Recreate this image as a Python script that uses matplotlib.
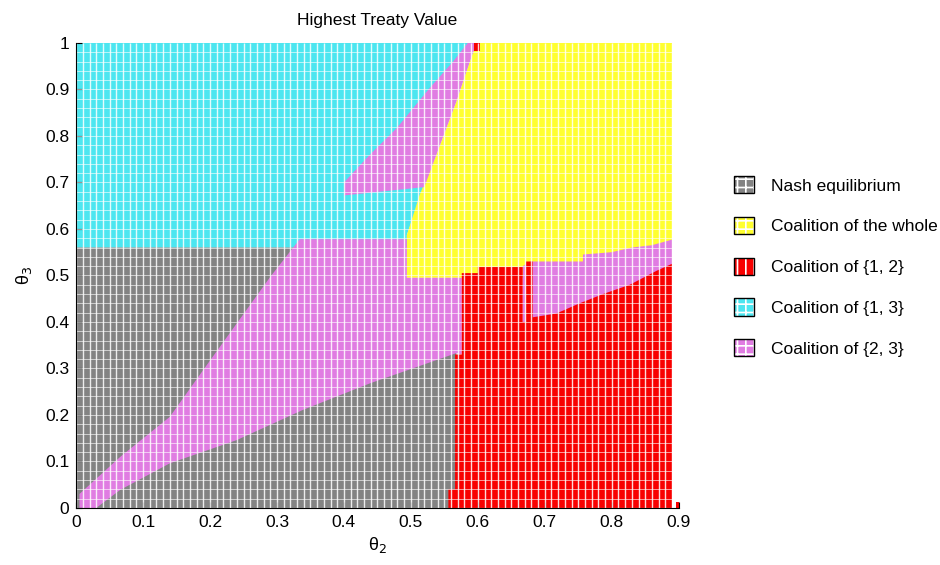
import numpy as np
import matplotlib.pyplot as plt
from matplotlib.patches import Patch
from matplotlib.legend_handler import HandlerTuple

plt.rcParams['font.family'] = ['Liberation Sans', 'DejaVu Sans']
plt.rcParams['font.size'] = 12.5
plt.rcParams['hatch.linewidth'] = 1.2

# region outlines as (theta2, theta3) vertices
cyan_13 = [[(0.0, 0.56), (0.0, 1.0), (0.598, 1.0), (0.494, 0.587), (0.494, 0.56)]]
yellow_whole = [[(0.494, 0.495), (0.494, 0.587), (0.513, 0.673), (0.538, 0.759),
                 (0.568, 0.874), (0.588, 0.96), (0.598, 1.0), (0.89, 1.0), (0.89, 0.495)]]
black_nash = [[(0.0, 0.0), (0.0, 0.56), (0.334, 0.56), (0.568, 0.333), (0.568, 0.0)]]
magenta_23 = [
    # upper strip between {1,3} and the whole
    [(0.40, 0.672), (0.40, 0.70), (0.439, 0.76), (0.479, 0.817), (0.528, 0.903),
     (0.563, 0.96), (0.585, 1.0), (0.598, 1.0), (0.588, 0.96), (0.568, 0.874),
     (0.538, 0.759), (0.52, 0.69)],
    # diagonal band
    [(0.005, 0.0), (0.005, 0.03), (0.066, 0.11), (0.14, 0.196), (0.19, 0.297),
     (0.24, 0.397), (0.29, 0.497), (0.334, 0.578), (0.494, 0.578), (0.494, 0.495),
     (0.576, 0.495), (0.576, 0.33), (0.568, 0.333), (0.439, 0.268), (0.339, 0.211),
     (0.24, 0.146), (0.14, 0.096), (0.066, 0.039), (0.03, 0.0)],
    # right pocket above {1,2}
    [(0.667, 0.40), (0.667, 0.52), (0.678, 0.53), (0.757, 0.53), (0.757, 0.545),
     (0.80, 0.55), (0.83, 0.56), (0.86, 0.565), (0.89, 0.577), (0.89, 0.40)],
]
red_12 = [
    [(0.556, 0.0), (0.556, 0.04), (0.566, 0.04), (0.566, 0.33), (0.576, 0.33),
     (0.576, 0.505), (0.60, 0.505), (0.60, 0.518), (0.667, 0.518), (0.667, 0.40),
     (0.672, 0.40), (0.672, 0.53), (0.682, 0.53), (0.682, 0.41), (0.717, 0.418),
     (0.752, 0.44), (0.787, 0.46), (0.827, 0.48), (0.867, 0.51), (0.89, 0.525),
     (0.89, 0.0)],
    [(0.595, 0.982), (0.595, 1.0), (0.603, 1.0), (0.603, 0.982)],
    [(0.896, 0.0), (0.896, 0.012), (0.904, 0.012), (0.904, 0.0)],
]

labels = ['Nash equilibrium', 'Coalition of the whole', 'Coalition of {1, 2}',
          'Coalition of {1, 3}', 'Coalition of {2, 3}']
colors = ['#838383', '#ffff30', '#f80000', '#4ce6f0', '#e07ce2']
x_ticks = [0, 0.1, 0.2, 0.3, 0.4, 0.5, 0.6, 0.7, 0.8, 0.9]
y_ticks = [0, 0.1, 0.2, 0.3, 0.4, 0.5, 0.6, 0.7, 0.8, 0.9, 1]

fig = plt.figure(figsize=(9.4, 5.65), dpi=100)
ax = fig.add_axes([0.081, 0.101, 0.641, 0.823])

# drawing order matters: later regions sit on top
layers = [(cyan_13, colors[3]), (yellow_whole, colors[1]), (black_nash, colors[0]),
          (magenta_23, colors[4]), (red_12, colors[2])]
for polys, c in layers:
    for poly in polys:
        xs, ys = zip(*poly)
        ax.fill(xs, ys, facecolor=c, edgecolor='none', linewidth=0)

# white cell lines to give the gridded look
ax.vlines(np.arange(0.0, 0.9, 0.01), 0, 1, colors='white', linewidth=1.0, alpha=0.85)
ax.hlines(np.arange(0.0, 1.0, 0.02), 0, 0.89, colors='white', linewidth=0.6, alpha=0.7)

ax.set_xlim(0, 0.9)
ax.set_ylim(0, 1)
ax.set_xticks(x_ticks)
ax.set_xticklabels([f'{t:g}' for t in x_ticks])
ax.set_yticks(y_ticks)
ax.set_yticklabels([f'{t:g}' for t in y_ticks])
ax.tick_params(direction='in', length=4, width=0.8, labelsize=12.5, pad=5)
ax.spines['top'].set_visible(False)
ax.spines['right'].set_visible(False)
ax.set_title('Highest Treaty Value', fontsize=12.5, pad=13)
ax.set_xlabel('θ$_2$', fontsize=13, labelpad=4)
ax.set_ylabel('θ$_3$', fontsize=13, labelpad=8)

hatches = ['++', '++', '||', '++', '++']
handles = []
for c, h in zip(colors, hatches):
    handles.append((Patch(facecolor=c, edgecolor='white', hatch=h, linewidth=0),
                    Patch(facecolor='none', edgecolor='black', linewidth=1.0)))
fig.legend(handles, labels, loc='upper left', bbox_to_anchor=(0.764, 0.716),
           frameon=False, handlelength=1.15, handleheight=1.15,
           labelspacing=1.34, handletextpad=1.0, fontsize=12.5,
           handler_map={tuple: HandlerTuple(ndivide=1, pad=0)})

fig.savefig('out.png', dpi=100)
